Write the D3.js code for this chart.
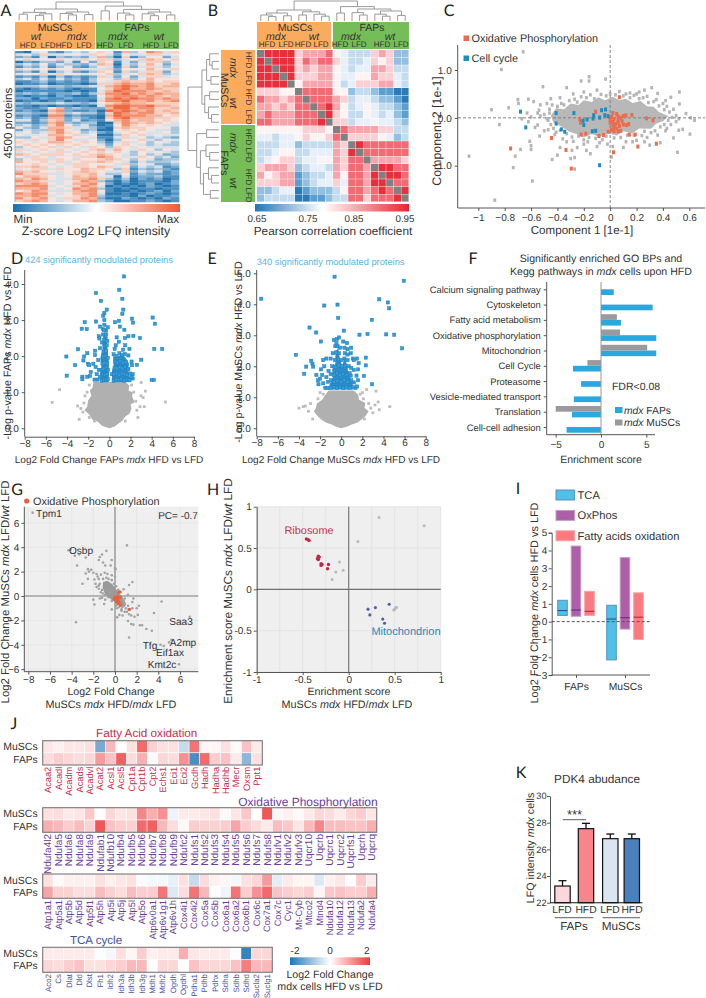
<!DOCTYPE html>
<html><head><meta charset="utf-8">
<script src="https://cdn.jsdelivr.net/npm/d3@7/dist/d3.min.js"></script>
<style>html,body{margin:0;padding:0;background:#fff}svg{display:block}text{font-family:"Liberation Sans",Arial,sans-serif;fill:#333;text-rendering:geometricPrecision}</style>
</head><body><svg id="c" width="706" height="998"></svg>
<script>
/* ---------- A ---------- */
const heatA = [
"1045213435 6517358746","4536445546 5425446645","2314032324 7306135524","5655565465 6634567656",
"0213324152 6514246635","3435243324 7604357524","1324135213 5416246435","6545655644 4625557546",
"2314034213 6516346625","4556465545 5634567634","1213031212 6425246645","3424242313 5536357555",
"1123121213 5467667566","0112011101 6678778667","3334332334 4789878677","1012121011 5689778766",
"0111110101 4798887676","2323122313 6889787877","1011021001 5788878767","2202112111 4898988787",
"0110120110 6889778678","3233343323 5678776666","1101011010 4899889776","2112572322 2799788667",
"1210782112 0989878676","3322673433 1698788667","1210881211 0798887756","2312772321 0689777665",
"4413672412 1578677565","2212783233 0068767654","3423685342 0158656544","5324776443 1067665553",
"2433785423 0056565443","4534686534 2145654453","5445775645 0036564544","3354687554 1146453432",
"5465685445 2035564354","6545776565 3146453543","5656565655 4256543433","3565646546 5365454444",
"6456565456 7475465354","4545464565 6565354543","7656665656 7654353423","5465455466 8754465342",
"3566465655 6765354233","7556564566 7654243334","5565454665 5546354223","6676545665 7645243412",
"4566465576 6536132321","7675545676 5446243412","8666445667 5335132212","5776545767 4404122311",
"7687544778 6313021201","8776445687 3102011102","6787545778 5201012012","8888454687 4010102101",
"7778545878 3101011011","5687444788 5100101202","8788545778 4001012101","7787455678 3111020112",
"8678546687 2002101021","6787545778 3200112101"];
const dendA = [1,[.62,[.44,[.34,0,1],[.36,[.28,2,3],4]],[.46,[.38,5,[.3,6,7]],[.32,8,9]]],[.78,[.52,10,11],[.6,[.4,12,[.3,13,14]],[.46,[.36,15,[.26,16,17]],[.3,18,19]]]]];
const headA = [["MuSCs",55,27,10.6,0],["wt",36,36,10.5,1],["mdx",77,36,10.5,1],["HFD",28,45,8,0],["LFD",48,45,8,0],["HFD",64,45,8,0],["LFD",84,45,8,0],
 ["FAPs",137,27,10.4,0],["mdx",118,36,10.5,1],["wt",159,36,10.5,1],["HFD",105,45,8,0],["LFD",126,45,8,0],["HFD",151,45,8,0],["LFD",171,45,8,0]];
/* ---------- B ---------- */
const heatB = [
"x9999 67778 54 333 676 22","9x999 68788 64 334 656 22","99x99 67677 54 344 776 33","999x9 66677 54 455 766 43","9999x 57777 53 466 677 43",
"66655 x8888 55 233 211 00","87767 8x888 76 344 322 10","77676 88x89 75 345 433 21","78777 888x9 65 335 434 21","88777 8889x 66 344 544 32",
"55555 56665 x8 777 766 33","44344 56556 8x 666 654 23","33344 23333 76 x98 888 88","33455 33444 76 9x8 888 88","34566 34455 76 88x 777 76",
"67776 23443 76 887 x99 88","75677 12334 75 887 9x9 98","66677 12344 64 887 99x 88","22344 01222 35 887 898 x9","23333 00112 33 886 888 9x"];
const dendB = [1,[.55,[.4,[.3,0,[.22,1,2]],[.26,3,4]],[.46,[.3,5,6],[.34,7,[.24,8,9]]]],[.72,[.4,10,11],[.6,[.42,12,[.3,13,14]],[.5,[.34,15,[.24,16,17]],[.28,18,19]]]]];
const headB = [["MuSCs",295,27,10.6,0],["mdx",276,36,10.5,1],["wt",314,36,10.5,1],["HFD",267,44,8,0],["LFD",286,44,8,0],["HFD",303,44,8,0],["LFD",321,44,8,0],
 ["FAPs",372,27,10.4,0],["mdx",351,36,10.5,1],["wt",390,36,10.5,1],["HFD",340,44,8,0],["LFD",359,44,8,0],["HFD",382,44,8,0],["LFD",401,44,8,0]];
const sideB = [["HFD",249,60,8,0],["LFD",249,78,8,0],["HFD",249,97,8,0],["LFD",249,117,8,0],["mdx",234,68,10.5,1],["wt",234,103,10.5,1],["MuSCs",225,90,10.6,0],
 ["HFD",249,137,8,0],["LFD",249,155,8,0],["HFD",249,177,8,0],["LFD",249,195,8,0],["mdx",234,143,10.5,1],["wt",234,183,10.5,1],["FAPs",225,163,10.4,0]];
const ticksB = [["0.65",257],["0.75",308],["0.85",354],["0.95",405]];
/* ---------- C ---------- */
const cTicksX = [-1,-.8,-.6,-.4,-.2,0,.2,.4,.6];
const cTicksY = [-1,0,1];
const cCore = [[-.45,.05],[-.41,.2],[-.35,.18],[-.3,.3],[-.24,.27],[-.2,.37],[-.14,.33],[-.09,.43],[-.04,.37],[.02,.44],[.07,.37],[.12,.4],[.17,.31],[.23,.35],[.28,.24],[.33,.23],[.37,.12],[.44,.04],[.4,-.07],[.35,-.12],[.31,-.23],[.22,-.22],[.17,-.32],[.1,-.28],[.05,-.37],[-.02,-.32],[-.08,-.4],[-.14,-.34],[-.2,-.41],[-.26,-.33],[-.31,-.29],[-.37,-.18],[-.43,-.1]];
const cRing = [[-.46,.18],[-.44,.27],[-.4,.24],[-.37,.3],[-.35,.27],[-.31,.36],[-.27,.39],[-.25,.33],[-.22,.44],[-.18,.42],[-.15,.48],[-.12,.4],[-.07,.49],[-.03,.46],[0,.5],[.04,.48],[.1,.46],[.15,.42],[.18,.47],[.22,.4],[.25,.42],[.29,.32],[.33,.34],[.37,.25],[.4,.3],[.41,.17],[.45,.12],[.47,.01],[.44,-.05],[.5,-.08],[.41,-.14],[.38,-.19],[.43,-.22],[.34,-.27],[.31,-.31],[.26,-.28],[.24,-.37],[.18,-.36],[.13,-.36],[.08,-.41],[.03,-.42],[-.03,-.38],[-.06,-.46],[-.11,-.43],[-.16,-.41],[-.2,-.46],[-.24,-.38],[-.29,-.4],[-.33,-.33],[-.38,-.26],[-.41,-.3],[-.45,-.14],[-.48,-.02],[-.5,.07],[-.46,.1],[-.53,.04],[-.55,.1],[-.43,-.22],[-.47,-.25]];
const cGrey = [[-.66,1.38],[-.825,1.01],[-.22,.77],[-.16,.86],[-.16,.77],[-.035,.81],[-.51,.65],[-.33,.63],[-.9,.17],[-.77,.21],[-.7,.38],[-.695,.3],[-.62,.39],[-.58,.34],[-.53,.27],[-.48,.3],[-.84,-.14],[-1.07,-.8],[-.875,-1.72],[-.59,-1.32],[-.735,-1.04],[-.72,-.8],[-.68,-.66],[-.61,-.49],[-.6,-.58],[-.6,-.66],[-.535,-.38],[-.44,-.87],[-.4,-.78],[-.38,-.62],[-.3,-.85],[-.27,-.83],[-.27,-1.07],[-.15,-.75],[.01,-.82],[.02,-.6],[.51,-.72],[.48,-.42],[.605,-.34],[.55,-.24],[.52,-.26],[.64,-.05],[.575,.09],[.61,0],[.525,.29],[.525,.54],[.46,.43],[.43,.24],[.36,.51],[.315,.63],[.26,.58],[.22,.54],[.12,.5],[.15,.52],[.07,.55],[.3,-.57],[.26,-.5],[.17,-.5],[.1,-.62],[-.02,-.55],[-.1,-.6],[-.2,-.55],[-.25,-.62],[-.33,-.5],[-.42,-.35],[-.5,-.27],[-.55,-.15],[-.62,-.08],[-.67,-.02],[-.57,-.2],[-.45,.4],[-.38,.42],[-.28,.5],[-.2,.54],[-.1,.58],[.2,.5],[.28,.45],[.35,.38],[.42,.36],[.48,.18],[.5,.05],[.52,-.02],[.46,-.14],[.42,-.27],[.36,-.36],[.28,-.41],[.2,-.47],[.38,-.52],[.12,-.5],[-.08,-.52],[-.17,-.5],[-.28,-.49],[-.36,-.44],[-.29,-.68],[-.18,-.68],[-.63,.1],[-.6,.02],[-.54,.16],[-.47,-.05]];
const cOrange = [[.07,.43],[-.11,.13],[-.23,-.03],[-.225,-.1],[-.185,-.33],[-.22,-.35],[-.085,-.38],[-.05,-.36],[-.445,-.42],[-.335,-.67],[-.755,-.64],[-.295,-1.06],[.025,-.72],[.21,-.6],[.35,-.54],[.275,-.01],[.325,-.05],[.165,.06],[.14,-.13],[.125,-.15],[.145,-.35],[.19,-.35],[-.015,-.29],[.02,.1],[.05,.08],[.01,.02],[.03,-.02],[.06,.03],[.08,0],[.1,.04],[.12,.05],[0,-.1],[.02,-.08],[.04,-.13],[.06,-.1],[.07,-.17],[.03,-.2],[.05,-.23],[.01,-.25],[.03,-.28],[.06,-.28],[.09,-.07],[.1,-.14],[.02,-.16],[0,-.03],[.06,-.05],[.08,-.27]];
const cBlue = [[-.68,.13],[-.64,-.2],[-.41,.1],[-.41,-.12],[-.275,.1],[-.37,-.24],[-.345,-.29],[-.205,-.06],[-.2,-.15],[-.175,-.035],[-.125,.055],[-.13,-.015],[-.11,-.27],[-.135,-.28],[-.065,.16],[-.035,.175],[-.04,.055],[-.08,.005],[-.015,.035],[-.08,-.99]];
/* ---------- D ---------- */
const volTicksX = [-8,-6,-4,-2,0,2,4,6,8];
const dGreyArea = [[0,0],[.5,.05],[.9,.14],[1.2,.2],[1.5,.33],[1.9,.4],[2.1,.55],[2,.66],[2.4,.72],[2.15,.88],[2.2,1],[1.8,1.05],[1.9,1.18],[1.55,1.28],[-1.5,1.28],[-1.6,1.12],[-1.85,1.05],[-1.7,.9],[-2,.78],[-2.1,.6],[-2.35,.5],[-1.9,.38],[-1.6,.24],[-1.1,.18],[-.7,.07]];
const dGrey = [[-5.4,.72],[-4.7,1.07],[-2.85,.25],[-3,.62],[-2.7,.55],[-2.5,.45],[5.3,.73],[3,1.27],[3.4,1.03],[3.3,.6],[3.2,.85],[3,.9],[2.9,.6],[2.7,.3],[2.6,.5],[2.5,.75],[2.3,1],[2.1,1.2],[-2.3,.9],[-2.1,1],[-1.9,1.2],[-2.4,.7],[-1.9,.3],[-1.4,.2],[1.5,.2]];
const dBlueLobes = [[[-.8,1.28],[-.9,1.5],[-.75,1.7],[-.85,1.95],[-.65,2.2],[-.65,2.4],[-.25,2.45],[-.15,2.1],[-.05,1.85],[-.05,1.28]],[[.25,1.28],[.25,1.6],[.4,1.75],[.35,2],[.8,1.98],[1.2,2.06],[1.55,1.95],[1.85,1.8],[1.8,1.5],[2.05,1.35],[2,1.28]]];
const dBlue = [[1.39,4.21],[-1.26,3.75],[.94,3.84],[-.79,3.53],[1.23,3.59],[1.32,3.29],[-.25,3.29],[-.47,3.2],[1.23,3.17],[-.57,3.12],[4.09,3.07],[2.14,3.04],[-1.26,2.96],[-2.33,2.94],[-.47,3],[.54,2.94],[.91,2.98],[2.24,2.93],[4.31,2.9],[-.88,2.82],[-.47,2.87],[1,2.82],[-2.61,2.76],[-2.14,2.75],[-.31,2.71],[1.42,2.73],[2.27,2.56],[2.9,2.5],[-1,2.55],[-.94,2.49],[1.48,2.5],[1.8,2.55],[.69,2.52],[-2.96,2.19],[-4.06,1.99],[-3.24,1.75],[-4.03,1.46],[-2.55,1.43],[-2.55,1.36],[-2.08,1.43],[-1.83,1.45],[-2.08,2.08],[-2.39,1.99],[-2.45,1.88],[-2.02,1.79],[-1.9,1.75],[-1.51,1.79],[-1.76,1.56],[-1.35,2.15],[-1.35,2.03],[-.88,2.22],[-1.04,1.89],[4.25,2.2],[5,2.2],[3.02,1.9],[2.6,1.76],[4,1.34],[4.22,1.34],[-1.3,1.7],[-1.2,1.5],[-1.1,1.35],[-1,1.62],[-.9,1.42],[-1.4,1.35],[-.7,2.38],[-.62,2.75],[-.35,2.48],[-.5,2.45],[.6,2.3],[.9,2.4],[1.5,2.3],[1.9,2.2],[1.3,2.18],[.5,2.2],[2.2,1.5],[2.2,1.38],[2.15,1.75],[2.1,1.85],[.25,1.5],
 [-.7,1.32],[-.5,1.35],[-.3,1.33],[-.15,1.36],[-.6,1.5],[-.4,1.48],[-.2,1.5],[-.75,1.62],[-.55,1.65],[-.3,1.68],[-.12,1.62],[-.65,1.8],[-.45,1.82],[-.22,1.8],[-.6,1.98],[-.35,2],[-.15,1.95],[-.55,2.12],[-.3,2.15],[-.45,2.28],[-.25,2.3],[-.4,2.55],[-.2,2.42],[-.6,2.6],[-.3,2.6],[-.5,2.72],[-.15,2.8],
 [.4,1.32],[.65,1.35],[.9,1.33],[1.15,1.36],[1.4,1.32],[1.65,1.35],[1.9,1.33],[2.1,1.42],[.45,1.5],[.7,1.52],[.95,1.48],[1.2,1.52],[1.45,1.5],[1.7,1.48],[1.95,1.52],[.5,1.68],[.75,1.66],[1,1.7],[1.25,1.66],[1.5,1.7],[1.8,1.64],[.55,1.85],[.8,1.82],[1.05,1.86],[1.3,1.82],[1.55,1.84],[.4,2.05],[.7,2],[.95,2.08],[1.2,2.03],[1.45,2.06],[1.8,2.02]];
/* ---------- E ---------- */
const eYTicks = [0,1,2,3,4,5];
const eGreyArea = [[0,0],[.6,.06],[1,.12],[1.5,.18],[2,.3],[2.3,.4],[2.6,.55],[2.2,.66],[2.3,.82],[1.7,.92],[1.6,1.08],[1.2,1.22],[-1.2,1.22],[-1.5,1.08],[-1.8,.92],[-2.3,.8],[-2.4,.65],[-2.6,.55],[-2.2,.38],[-1.9,.28],[-1.4,.18],[-.9,.12],[-.5,.05]];
const eGrey = [[-4,.65],[-3.6,.7],[-3.1,.55],[-2.7,.3],[-3.4,.72],[-2.9,.8],[-2.2,.95],[-2,1.15],[-1.7,1.1],[3.2,.75],[3.6,.6],[4.6,.7],[3.5,.85],[3.3,1.2],[2.4,1.25],[2,1.15],[3,.5],[2.6,.8],[2.8,.65],[2.1,.95],[1.8,1.1],[2.2,.3]];
const eBlueArea = [[-1.25,1.25],[-1.05,1.45],[-.8,1.6],[-.85,1.9],[-.55,2.1],[-.55,2.45],[-.3,2.6],[-.15,2.3],[.1,2],[.3,2.3],[.55,2.05],[.7,1.75],[1.05,1.5],[1.15,1.25]];
const eBlue = [[-.63,4.89],[5.93,4.76],[-7.57,4.18],[3.6,4.16],[4.42,4.06],[4.54,3.87],[-.35,3.99],[-1.6,3.96],[-.28,3.56],[2.9,3.5],[-3,3.25],[-2.37,3.09],[.25,3.15],[1.73,3.02],[2.49,3.04],[4.26,3.03],[5.02,3.02],[-1.92,2.8],[5.77,2.58],[-4.29,2.37],[2.33,2.28],[2.33,2.03],[-2.84,2.18],[-2.72,2.08],[-3.31,1.99],[-2.65,1.99],[-3.5,1.76],[2.15,1.69],[2.93,1.42],[-.7,2.85],[-.4,2.88],[-.2,2.93],[-.55,2.65],[.2,2.8],[.6,2.55],[.95,2.6],[.55,2.75],[.9,2.42],[1.1,2.25],[1.5,2.25],[1.65,2.1],[1.2,2.2],[-1.4,2.25],[-1,2.25],[-.8,2.42],[-1.7,2.2],[-1.6,2],[-1.9,1.9],[-1.8,1.72],[-2,1.6],[-2.35,1.72],[-2.2,1.55],[-2.15,1.42],[-1.7,1.45],[-1.4,1.65],[-1.2,1.85],[1.2,1.88],[1.6,1.9],[1.45,1.7],[1.6,1.55],[1.35,1.3],[1.5,1.35],[-1.5,1.3],[.9,1.7],
 [-1.3,1.3],[-1,1.3],[-.7,1.32],[-.4,1.3],[-.1,1.33],[.2,1.3],[.5,1.32],[.8,1.3],[1.1,1.33],[-1.25,1.5],[-.95,1.55],[-.65,1.5],[-.35,1.52],[0,1.5],[.3,1.55],[.6,1.5],[.95,1.55],[1.2,1.48],[-1,1.75],[-.7,1.72],[-.4,1.78],[-.1,1.72],[.2,1.75],[.5,1.72],[.8,1.78],[-.85,2],[-.55,1.98],[-.25,2.02],[.1,2],[.4,2.02],[.7,2],[.95,1.95],[-.6,2.2],[-.3,2.22],[0,2.2],[.3,2.25],[.6,2.2],[-.5,2.45],[-.2,2.42],[.35,2.42],[.6,2.38],[-.35,2.65],[-.1,2.6],[.3,2.6],[-.45,2.75]];
/* ---------- F ---------- */
const fCats = ["Calcium signaling pathway","Cytoskeleton","Fatty acid metabolism","Oxidative phosphorylation","Mitochondrion ","Cell Cycle","Proteasome","Vesicle-mediated transport","Translation","Cell-cell adhesion"];
const fFaps = [1.4,5.7,2.2,6.1,6.1,-3.1,-2.2,-3,-3.2,-3.8];
const fMuscs = [null,null,1.75,2.1,5.1,-1.5,null,null,-5,null];
/* ---------- G ---------- */
const gTicksX = [-8,-6,-4,-2,0,2,4,6], gTicksY = [-6,-4,-2,0,2,4,6];
const gCore = [[-1.1,1.15],[-.7,1.25],[-.3,1],[0,.7],[.3,.3],[.7,-.1],[1,-.6],[.9,-.9],[.5,-.85],[.1,-.6],[-.3,-.3],[-.7,-.05],[-1,.3],[-1.15,.7]];
const gGrey = [[-7.6,6.83],[-4.1,3.8],[-4.3,3.75],[6.9,-1.7],[5,-3.8],[5.2,-3.6],[4.2,-4],[4.5,-4.1],[5.9,-5.6],[1.1,4.15],[-.8,3.7],[-1.2,3.4],[-1.4,3.2],[-2.7,3.15],[-3.3,3.4],[-3.7,3.3],[-1.5,2.95],[-1.1,2.75],[-.9,2.5],[-.4,2.5],[-.3,2.95],[.05,2.2],[0,2.3],[-3.5,2.5],[-2.5,2.2],[-2.4,2],[-2.2,2.15],[-2,1.9],[-2.7,1.85],[-2.5,1.4],[-3,1],[-1.9,1.35],[-1.7,1.8],[-1.5,1.4],[-1.3,1.75],[-1.6,1.6],[-1.8,1],[-1.7,.75],[-1.5,.85],[-.95,1.9],[-.7,1.8],[-.3,1.7],[0,1.6],[1.6,1.15],[1.3,.9],[.8,.55],[1.2,.1],[1.7,-.2],[-2,-.3],[-1.4,-.2],[-1.9,-.7],[-1,-.65],[-1.2,-.15],[-.9,-.3],[-3.6,-2.15],[-.3,-1.1],[.2,-1],[.4,-1.55],[.7,-1.6],[.2,-1.75],[1.1,-1.3],[1.5,-1.6],[1.2,-2.05],[1.5,-2.3],[1.7,-2.35],[1.3,-3.4],[2,-1],[1.8,-1.7],[2.1,-1.55],[2.3,-2.4],[2.5,-2.4],[2.9,-2.7],[3.4,-2.85],[3.6,-1.4],[4.3,-.45],[2.2,-.8],[1.6,-.5],[1.3,-1.5],[-.5,.3],[-.2,-.2],[.2,-.7],[.6,-1.2],
 [-1.1,1.4],[-.8,1.5],[-.6,1.4],[-.3,1.3],[-1.4,1],[-1.2,.5],[-1.3,.3],[-.9,.1],[-.6,-.1],[-.3,-.4],[.1,-.8],[.4,-.9],[.7,-.9],[.9,-.7],[1,-1],[.8,-.4],[.9,-.2],[.5,.3],[.3,.5],[.1,.8],[-.1,1],[.6,-1.1],[1.2,-.8],[1.4,-1.1],[1.6,-1],[.9,-1.3],[-1.5,.6],[-1.1,.2]];
const gRed = [[0,-.1],[.1,-.3],[.2,-.05],[-.1,-.25],[.3,-.4],[.15,-.5],[.4,-.55],[.5,-.75],[.35,.3],[.45,.35],[.5,-.1],[.25,-.2],[1.3,-1.1],[.05,-.15],[.3,-.6]];
const gLabels = [["Tpm1",49,513.3],["Osbp",81,550],["Saa3",181,621],["A2mp",183,642.7],["Tfg",150,645],["Eif1ax",170,652],["Kmt2c",162,664]];
/* ---------- H ---------- */
const hTicks = [-1,-.5,0,.5,1];
const hGrey = [[.33,.87],[.82,.77],[.1,.58],[-.1,.33],[-.06,.23],[-.14,.21],[-.18,.12],[.49,-.25],[.51,-.22],[.5,-.24],[.52,-.22]];
const hRed = [[-.46,.61],[-.44,.6],[-.43,.59],[-.33,.4],[-.32,.39],[-.34,.37],[-.33,.36],[-.3,.31],[-.3,.29],[-.29,.3],[-.22,.3],[-.23,.25]];
const hBlue = [[.21,-.24],[.23,-.31],[.29,-.22],[.37,-.36],[.39,-.41],[.44,-.18]];
/* ---------- I ---------- */
const iGroups = ["FAPs","MuSCs"], iSeries = ["TCA","OxPhos","Fatty acids oxidation"];
const iFill = ["#4fc1e8","#ad5fa8","#fa7a80"], iStroke = ["#5b8fc0","#c79ccb","#f6a3a6"], iMed = ["#234a8a","#5c2a80","#c21a2e"];
const iLow = [[.35,.3,.35],[-2.15,-.42,-1]], iHigh = [[1.2,4.25,1.7],[.92,3.6,1.62]], iMedian = [[.62,.65,.58],[.15,.22,.25]];
const iTicks = [-3,-2,-1,0,1,2,3,4,5];
/* ---------- J ---------- */
const jFaGenes = ["Acaa2","Acadl","Acadm","Acads","Acadvl","Acat2","Acsl1","Acsl5","Cpt1a","Cpt1b","Cpt2","Echs1","Eci1","Eci2","Gcdh","Hadh","Hadha","Hadhb","Mecr","Oxsm","Ppt1"];
const jFaM = [.25,.15,.25,.25,.3,-1.2,.7,.02,.3,1.5,.45,.3,.3,-.5,1.4,.1,.1,.3,.05,.6,.2];
const jFaF = [.35,.5,.4,.35,.4,1,.6,1.6,.35,.8,-.05,.4,.35,1.1,-1.7,1.5,.5,.6,.2,-1,.3];
const jOx1Genes = ["Ndufa4l2","Ndufa5","Ndufa6","Ndufa8","Ndufa9","Ndufab1","Ndufb10","Ndufb4","Ndufb5","Ndufb6","Ndufb7","Ndufb8","Ndufb9","Ndufc2","Ndufs1","Ndufs2","Ndufs3","Ndufs4","Ndufs5","Ndufs6","Ndufs7","Ndufs8","Ndufv1","Ndufv2","Ndufv3","Uqcr10","Uqcrb","Uqcrc1","Uqcrc2","Uqcrfs1","Uqcrh","Uqcrq"];
const jOx1M = [.3,.35,.2,.25,.55,.02,.4,.25,.3,1.2,.8,1.1,-.15,.2,.2,.25,.3,.05,.25,.55,0,1.7,.1,.15,.05,.2,.4,.35,.2,.4,.5,.25];
const jOx1F = [.8,.7,.5,.65,.45,1.7,.6,.5,.45,1.5,1.6,.7,.35,.08,.5,.45,.45,.5,.9,.5,.35,.2,.65,.55,.25,.7,1.2,.65,.65,.6,.6,.8];
const jOx2Genes = ["Atp1a1","Atp5a1","Atp5b","Atp5d","Atp5f1","Atp5h","Atp5i","Atp5j","Atp5l","Atp5o","Atp6v0a1","Atp6v1g1","Atp6v1h","Cox4i1","Cox4i2","Cox5a","Cox5b","Cox6a1","Cox6a2","Cox6b1","Cox6c","Cox7a1","Cox7c","Cyc1","Mt-Cyb","Mtco2","Mtnd4","Ndufa10","Ndufa12","Ndufa13","Ndufa2","Ndufa4"];
const jOx2M = [.3,.05,.15,.15,.15,.3,.15,.25,.3,-.05,-.1,-.1,-.2,.3,-.5,.35,.15,.1,-.1,.3,.4,1,-.25,.2,.1,.1,-.3,.15,.25,.02,.5,.2];
const jOx2F = [.9,.45,.45,.35,.35,.65,.45,.35,.65,.5,.5,1.4,-.3,.35,1.4,.7,-.03,-.15,1.4,.5,1.1,1.5,.6,.5,.4,.5,.1,.55,.6,.5,.5,.8];
const jTcaGenes = ["Aco2","Cs","Dlat","Dld","Dlst","Fh1","Idh2","Idh3a","Idh3b","Idh3g","Mdh1","Mdh2","Ogdh","Ogdhl","Pdha1","Pdhb","Pdhx","Sdha","Sdhb","Sdhd","Sucla2","Suclg1"];
const jTcaM = [.2,.2,.2,.2,.2,-.03,-.1,.3,.1,.5,.15,.2,.2,.8,.25,.2,.2,.2,-.03,-1.9,.4,.4];
const jTcaF = [.4,.35,.5,.6,.3,.3,.4,.5,.7,.7,-.03,.4,.4,0,.6,.4,.4,.4,.6,1.3,.7,.7];
/* ---------- K ---------- */
const kCats = ["LFD","HFD","LFD ","HFD "], kVals = [23.25,27.55,26.8,26.8], kErr = [23.65,27.95,27.15,27.15];
const kColors = ["#fbd6db","#f8848c","#dbe5f1","#4a80bc"], kTicks = [22,24,26,28,30];

/* ---------- helpers ---------- */
const svg = d3.select("#c");
function txt(s,x,y,size,opt={}){
  const t = svg.append("text").attr("x",x).attr("y",y).attr("font-size",size).attr("dy",".35em")
    .attr("text-anchor",opt.anchor||"middle");
  if(opt.color) t.style("fill",opt.color);
  if(opt.rot!=null) t.attr("transform",`rotate(${opt.rot} ${x} ${y})`);
  s.split("*").forEach((p,i)=>{ if(p) t.append("tspan").attr("font-style",i%2?"italic":"normal").text(p); });
  return t;
}
function letter(s,x,y){ svg.append("text").attr("x",x).attr("y",y).attr("dy",".35em").attr("text-anchor","middle").attr("font-size",16).style("font-family","Lato").style("fill","#222").text(s); }
function styleAxis(g,fs){ g.selectAll("text").attr("font-size",fs).style("fill","#333"); g.selectAll("path,line").attr("stroke","#444").attr("stroke-width",.9); }
function axis(gen,x,y,fs){ const g=svg.append("g").attr("transform",`translate(${x},${y})`).call(gen); styleAxis(g,fs); return g; }
function squares(data,sx,sy,w,h,fill,stroke){ svg.append("g").selectAll("rect").data(data).join("rect").attr("x",d=>sx(d[0])-w/2).attr("y",d=>sy(d[1])-h/2).attr("width",w).attr("height",h).attr("fill",fill).attr("stroke",stroke||"none").attr("stroke-width",stroke?.5:0); }
function dots(data,sx,sy,r,fill){ svg.append("g").selectAll("circle").data(data).join("circle").attr("cx",d=>sx(d[0])).attr("cy",d=>sy(d[1])).attr("r",r).attr("fill",fill); }
function area(pts,sx,sy,fill){ svg.append("path").attr("d",d3.line().x(d=>sx(d[0])).y(d=>sy(d[1])).curve(d3.curveLinearClosed)(pts)).attr("fill",fill); }
function dendro(tree,pos,hscale,horizontal){
  const segs=[];
  (function walk(n){
    if(typeof n==="number") return {c:pos(n),h:hscale(0)};
    const a=walk(n[1]),b=walk(n[2]),h=hscale(n[0]);
    segs.push([[a.c,a.h],[a.c,h],[b.c,h],[b.c,b.h]]);
    return {c:(a.c+b.c)/2,h};
  })(tree);
  const l=d3.line().x(d=>horizontal?d[1]:d[0]).y(d=>horizontal?d[0]:d[1]);
  svg.append("g").selectAll("path").data(segs).join("path").attr("d",l).attr("fill","none").attr("stroke","#8f8f8f").attr("stroke-width",.9);
}
function gradient(id,stops){
  const g=svg.append("defs").append("linearGradient").attr("id",id);
  stops.forEach(s=>g.append("stop").attr("offset",s[0]).attr("stop-color",s[1]));
}
/* ---------- draw A ---------- */
letter("A",6,10);
const ax=d3.scaleBand().domain(d3.range(20)).range([15,179]);
dendro(dendA,i=>ax(i)+ax.bandwidth()/2,d3.scaleLinear([0,1],[20.5,2]),false);
svg.append("rect").attr("x",15).attr("y",22).attr("width",80).attr("height",27).attr("fill","#fbab5e");
svg.append("rect").attr("x",96).attr("y",22).attr("width",83).attr("height",27).attr("fill","#74bd58");
headA.forEach(h=>txt(h[4]?`*${h[0]}*`:h[0],h[1],h[2],h[3]));
const aRows=heatA.map(s=>s.replace(/ /g,""));
const ay=d3.scaleBand().domain(d3.range(aRows.length)).range([51,202]);
const aCol=d3.scaleLinear().domain([0,2.2,4.5,6.5,9]).range(["#2474ae","#7fb0d4","#f1eeee","#f9c4b0","#ee6a40"]);
aRows.forEach((r,i)=>svg.append("g").selectAll("rect").data(r.split("")).join("rect")
  .attr("x",(d,j)=>ax(j)).attr("y",ay(i)).attr("width",ax.bandwidth()+.3).attr("height",ay.bandwidth()+.3).attr("fill",d=>aCol(+d)));
svg.append("line").attr("x1",15).attr("x2",15).attr("y1",51).attr("y2",202).attr("stroke","#aaa");
gradient("ga",[[0,"#1a6fad"],[.5,"#ffffff"],[1,"#ee5a36"]]);
svg.append("rect").attr("x",13).attr("y",204).attr("width",167).attr("height",8).attr("fill","url(#ga)");
txt("Min",23,219,11.7); txt("Max",168,219,11.7); txt("Z-score Log2 LFQ intensity",96,231,12.3);
txt("4500 proteins",8,123,11.7,{rot:-90});
/* ---------- draw B ---------- */
letter("B",213,10);
const bx=d3.scaleBand().domain(d3.range(20)).range([257,409]);
const by=d3.scaleBand().domain(d3.range(20)).range([50,202]);
dendro(dendB,i=>bx(i)+bx.bandwidth()/2,d3.scaleLinear([0,1],[21,1]),false);
dendro(dendB,i=>by(i)+by.bandwidth()/2,d3.scaleLinear([0,1],[219,188]),true);
svg.append("rect").attr("x",257).attr("y",22).attr("width",74).attr("height",27).attr("fill","#fbab5e");
svg.append("rect").attr("x",333).attr("y",22).attr("width",76).attr("height",27).attr("fill","#74bd58");
svg.append("rect").attr("x",221).attr("y",50).attr("width",34).attr("height",74).attr("fill","#fbab5e");
svg.append("rect").attr("x",221).attr("y",125).attr("width",34).attr("height",77).attr("fill","#74bd58");
headB.forEach(h=>txt(h[4]?`*${h[0]}*`:h[0],h[1],h[2],h[3]));
sideB.forEach(h=>txt(h[4]?`*${h[0]}*`:h[0],h[1],h[2],h[3],{rot:90}));
const bCol=d3.scaleLinear().domain([0,1,2,3,4,5,6,7,8,9]).range(["#2b7ab8","#5a9fd0","#93c0e0","#c5dcee","#e7f0f8","#fdf3f3","#fbd0d4","#f7a5ac","#f26a74","#ea2f3c"]);
heatB.map(s=>s.replace(/ /g,"")).forEach((r,i)=>svg.append("g").selectAll("rect").data(r.split("")).join("rect")
  .attr("x",(d,j)=>bx(j)).attr("y",by(i)).attr("width",bx.bandwidth()-.4).attr("height",by.bandwidth()-.4).attr("fill",d=>d==="x"?"#808080":bCol(+d)));
gradient("gb",[[0,"#2276b5"],[.44,"#ffffff"],[1,"#ea2233"]]);
svg.append("rect").attr("x",255).attr("y",204).attr("width",154).attr("height",7.5).attr("fill","url(#gb)");
ticksB.forEach(t=>txt(t[0],t[1],219,9.8));
txt("Pearson correlation coefficient",333,231,11.8);
/* ---------- draw C ---------- */
letter("C",449,10);
const cx=d3.scaleLinear().domain([-1,.6]).range([478.3,689.3]);
const cy=d3.scaleLinear().domain([-1,1]).range([165.7,70]);
area(cCore,cx,cy,"#b8b8b8");
squares(cRing,cx,cy,2.8,3.4,"#b5b5b5");
squares(cGrey,cx,cy,2.8,3.4,"#b5b5b5");
svg.append("line").attr("x1",cx(0)).attr("x2",cx(0)).attr("y1",45).attr("y2",208).attr("stroke","#777").attr("stroke-dasharray","3,2").attr("stroke-width",.9);
svg.append("line").attr("x1",458).attr("x2",705).attr("y1",cy(0)).attr("y2",cy(0)).attr("stroke","#777").attr("stroke-dasharray","3,2").attr("stroke-width",.9);
squares(cOrange,cx,cy,3,4,"#ee6a4a");
squares(cBlue,cx,cy,3,4,"#1d8dbf");
axis(d3.axisBottom(cx).tickValues(cTicksX).tickFormat(d3.format("")).tickSize(3).tickSizeOuter(0),0,208,10).call(g=>g.select(".domain").attr("d","M458,0H705"));
axis(d3.axisLeft(cy).tickValues(cTicksY).tickSize(3),457.7,0,10).call(g=>g.select(".domain").attr("d","M0,45V208"));
svg.append("rect").attr("x",463.5).attr("y",35.5).attr("width",5.5).attr("height",5.5).attr("fill","#ee6a4a");
svg.append("rect").attr("x",463.5).attr("y",55.5).attr("width",5.5).attr("height",5.5).attr("fill","#1d8dbf");
txt("Oxidative Phosphorylation",471.5,38,10.9,{anchor:"start"});
txt("Cell cycle",471.5,58,10.9,{anchor:"start"});
txt("Component 1 [1e-1]",582,230,11.6);
txt("Component 2  [1e-1]",437,131,12.4,{rot:-90});
/* ---------- draw D ---------- */
letter("D",17,258); letter("E",212,258);
const dx=d3.scaleLinear().domain([-8,8]).range([24.7,194]);
const dy=d3.scaleLinear().domain([0,4]).range([428.3,284]);
area(dGreyArea,dx,dy,"#b0b0b0"); squares(dGrey,dx,dy,2.8,2.8,"#bdbdbd");
dBlueLobes.forEach(l=>area(l,dx,dy,"#2a8cc9"));
squares(dBlue,dx,dy,3.2,3.2,"#349cd6","#1f7fbd");
axis(d3.axisBottom(dx).tickValues(volTicksX).tickSize(3).tickPadding(0).tickSizeOuter(0),0,436.7,10);
axis(d3.axisLeft(dy).tickValues([0,1,2,3,4]).tickSize(3),24.7,0,10).call(g=>g.select(".domain").attr("d","M0,270V436.7"));
txt("424 significantly modulated proteins",25,260,9.3,{anchor:"start",color:"#5ab6e0"});
txt("-Log p-value FAPs *mdx* HFD vs LFD",7,353,10.7,{rot:-90});
txt("Log2 Fold Change FAPs *mdx* HFD vs LFD",109,459.5,10);
/* ---------- draw E ---------- */
const ex=d3.scaleLinear().domain([-8,8]).range([256.7,425.7]);
const ey=d3.scaleLinear().domain([0,5]).range([428.3,273.3]);
area(eGreyArea,ex,ey,"#b0b0b0"); squares(eGrey,ex,ey,2.8,2.8,"#bdbdbd");
area(eBlueArea,ex,ey,"#2a8cc9");
squares(eBlue,ex,ey,3.2,3.2,"#349cd6","#1f7fbd");
axis(d3.axisBottom(ex).tickValues(volTicksX).tickSize(3).tickPadding(0).tickSizeOuter(0),0,436.3,10);
axis(d3.axisLeft(ey).tickValues(eYTicks).tickSize(3),256.7,0,10).call(g=>g.select(".domain").attr("d","M0,270V436.3"));
txt("340 significantly modulated proteins",256.7,262,9.3,{anchor:"start",color:"#5ab6e0"});
txt("-Log p-value MuSCs *mdx* HFD vs LFD",238,352,10.65,{rot:-90});
txt("Log2 Fold Change MuSCs *mdx* HFD vs LFD",341,459.5,10.05);
/* ---------- draw F ---------- */
letter("F",473,258);
const fx=d3.scaleLinear().domain([-5,5]).range([555.7,646.3]);
const fy=d3.scalePoint().domain(fCats).range([289.3,427]);
const bh=5.7;
svg.append("g").selectAll("rect").data(fFaps).join("rect").attr("x",d=>fx(Math.min(0,d))).attr("y",(d,i)=>fy(fCats[i])).attr("width",d=>Math.abs(fx(d)-fx(0))).attr("height",bh).attr("fill","#29a7df");
svg.append("g").selectAll("rect").data(fMuscs).join("rect").filter(d=>d!=null).attr("x",d=>fx(Math.min(0,d))).attr("y",d=>fy(fCats[fMuscs.indexOf(d)])-bh).attr("width",d=>Math.abs(fx(d)-fx(0))).attr("height",bh).attr("fill","#9a9a9e");
svg.append("line").attr("x1",fx(0)).attr("x2",fx(0)).attr("y1",282).attr("y2",434.7).attr("stroke","#999").attr("stroke-width",1);
axis(d3.axisBottom(fx).tickValues([-5,0,5]).tickSize(3).tickSizeOuter(0),0,434.7,10).call(g=>g.select(".domain").attr("d","M546.7,0H655"));
axis(d3.axisLeft(fy).tickSize(3).tickFormat(d=>d),546.7,0,9.4).call(g=>g.select(".domain").attr("d","M0,282V434.7"));
txt("Significantly enriched GO BPs and",601,258.3,10.6);
txt("Kegg pathways in *mdx* cells upon HFD",601,271.7,10.6);
txt("FDR<0.08",636,386.7,10.5);
svg.append("rect").attr("x",615).attr("y",407).attr("width",7.5).attr("height",6).attr("fill","#29a7df");
svg.append("rect").attr("x",615).attr("y",419.5).attr("width",7.5).attr("height",6).attr("fill","#9a9a9e");
txt("*mdx* FAPs",624,410,10.3,{anchor:"start"});
txt("*mdx* MuSCs",624,422.5,10.3,{anchor:"start"});
txt("Enrichment score",601,459.7,10.5);
/* ---------- draw G ---------- */
letter("G",17,489); letter("H",213,489);
const gx=d3.scaleLinear().domain([-8,8]).range([28.3,201.7]);
const gy=d3.scaleLinear().domain([-6,6]).range([669.2,522.8]);
svg.append("rect").attr("x",24.3).attr("y",506.7).attr("width",174).attr("height",165).attr("fill","#efefef");
gTicksX.forEach(t=>svg.append("line").attr("x1",gx(t)).attr("x2",gx(t)).attr("y1",506.7).attr("y2",671.7).attr("stroke","#e2e2e2").attr("stroke-width",.7));
gTicksY.forEach(t=>svg.append("line").attr("x1",24.3).attr("x2",198.3).attr("y1",gy(t)).attr("y2",gy(t)).attr("stroke","#e2e2e2").attr("stroke-width",.7));
svg.append("line").attr("x1",gx(0)).attr("x2",gx(0)).attr("y1",506.7).attr("y2",671.7).attr("stroke","#808080").attr("stroke-width",1.1);
svg.append("line").attr("x1",24.3).attr("x2",198.3).attr("y1",gy(0)).attr("y2",gy(0)).attr("stroke","#808080").attr("stroke-width",1.1);
area(gCore,gx,gy,"#9a9a9a");
dots(gGrey,gx,gy,1.3,"#a3a3a3");
dots(gRed,gx,gy,1.6,"#ea5f3c");
axis(d3.axisBottom(gx).tickValues(gTicksX).tickSize(3).tickPadding(1).tickSizeOuter(0),0,671.7,10).call(g=>g.select(".domain").attr("d","M24.3,0H198.3"));
axis(d3.axisLeft(gy).tickValues(gTicksY).tickSize(3).tickPadding(2),24.3,0,10).call(g=>g.select(".domain").attr("d","M0,506.7V671.7"));
gLabels.forEach(l=>txt(l[0],l[1],l[2],10.1));
svg.append("circle").attr("cx",26.7).attr("cy",501).attr("r",2.6).attr("fill","#ea5f3c");
txt("Oxidative Phosphorylation",33,501,10.9,{anchor:"start"});
txt("PC= -0.7",178,515,10);
txt("Log2 Fold Change MuSCs *mdx* LFD/*wt* LFD",5,592,11.4,{rot:-90});
txt("Log2 Fold Change",111,691,10.6);
txt("MuSCs *mdx* HFD/*mdx* LFD",111,704,10.8);
/* ---------- draw H ---------- */
const hx=d3.scaleLinear().domain([-1,1]).range([256.7,440.7]);
const hy=d3.scaleLinear().domain([-1,1]).range([672,506.7]);
svg.append("rect").attr("x",256.7).attr("y",506.7).attr("width",184).attr("height",165.3).attr("fill","#efefef");
hTicks.concat([-.75,-.25,.25,.75]).forEach(t=>svg.append("line").attr("x1",hx(t)).attr("x2",hx(t)).attr("y1",506.7).attr("y2",672).attr("stroke","#e0e0e0").attr("stroke-width",.7));
hTicks.forEach(t=>svg.append("line").attr("x1",256.7).attr("x2",440.7).attr("y1",hy(t)).attr("y2",hy(t)).attr("stroke","#e0e0e0").attr("stroke-width",.7));
svg.append("line").attr("x1",hx(0)).attr("x2",hx(0)).attr("y1",506.7).attr("y2",672).attr("stroke","#707070").attr("stroke-width",1.1);
svg.append("line").attr("x1",256.7).attr("x2",440.7).attr("y1",hy(0)).attr("y2",hy(0)).attr("stroke","#707070").attr("stroke-width",1.1);
dots(hGrey,hx,hy,1.5,"#b9b9b9");
dots(hRed,hx,hy,1.7,"#c4264a");
dots(hBlue,hx,hy,1.6,"#5560a8");
const f2=d=>d===0?"0":String(d);
axis(d3.axisBottom(hx).tickValues(hTicks).tickFormat(f2).tickSize(3).tickPadding(.5).tickSizeOuter(0),0,672,10);
axis(d3.axisLeft(hy).tickValues(hTicks).tickFormat(f2).tickSize(3).tickPadding(2).tickSizeOuter(0),256.7,0,10);
txt("Ribosome",309,530,10.9,{color:"#c2334f"});
txt("Mitochondrion",406,631,11,{color:"#2d87b8"});
txt("Enrichment score MuSCs *mdx* LFD/*wt* LFD",227.7,591,11.8,{rot:-90});
txt("Enrichment score",349,691,10.7);
txt("MuSCs *mdx* HFD/*mdx* LFD",347,704,10.8);
/* ---------- draw I ---------- */
letter("I",518,488);
const iy=d3.scaleLinear().domain([-3,5]).range([675,532.7]);
const offs=[-13.5,0,13.5];
const icx=d3.scaleOrdinal().domain(iGroups).range([576,625]);
iGroups.forEach((g,gi)=>iSeries.forEach((s,si)=>{
  const c=icx(g)+offs[si];
  svg.append("rect").attr("x",c-4.8).attr("y",iy(iHigh[gi][si])).attr("width",9.6).attr("height",iy(iLow[gi][si])-iy(iHigh[gi][si])).attr("fill",iFill[si]).attr("stroke",iStroke[si]).attr("stroke-width",1);
  svg.append("line").attr("x1",c-4.8).attr("x2",c+4.8).attr("y1",iy(iMedian[gi][si])).attr("y2",iy(iMedian[gi][si])).attr("stroke",iMed[si]).attr("stroke-width",1);
}));
svg.append("line").attr("x1",551.7).attr("x2",650).attr("y1",iy(0)).attr("y2",iy(0)).attr("stroke","#555").attr("stroke-dasharray","3,2").attr("stroke-width",1);
axis(d3.axisLeft(iy).tickValues(iTicks).tickSize(3).tickPadding(1.5),551.7,0,10);
axis(d3.axisBottom(icx).tickSize(3).tickPadding(5).tickSizeOuter(0),0,675,10.3).call(g=>g.select(".domain").attr("d","M551.7,0H650"));
iSeries.forEach((s,i)=>{
  const y=490+i*20.4;
  svg.append("rect").attr("x",556).attr("y",y).attr("width",18.6).attr("height",10).attr("fill",iFill[i]).attr("stroke",iStroke[i]).attr("stroke-width",1);
  txt(s,577.5,y+5,11.2,{anchor:"start"});
});
txt("Log2 Fold Change *mdx* cells HFD vs LFD",534,603,10.9,{rot:-90});
/* ---------- draw J ---------- */
letter("J",14,723);
const jCol=d3.scaleLinear().domain([-2,-1,0,1,2]).range(["#2b7cba","#8db6da","#ffffff","#f79a9c","#ee3a3a"]);
function jHeat(genes,m,f,x0,x1,y0,y1,color,fs){
  const x=d3.scaleBand().domain(genes).range([x0,x1]);
  const rh=(y1-y0)/2;
  [m,f].forEach((vals,ri)=>svg.append("g").selectAll("rect").data(vals).join("rect")
    .attr("x",(d,i)=>x(genes[i])).attr("y",y0+ri*rh).attr("width",x.bandwidth()).attr("height",rh)
    .attr("fill",d=>jCol(d)).attr("stroke","#fff").attr("stroke-width",.5));
  svg.append("rect").attr("x",x0).attr("y",y0).attr("width",x1-x0).attr("height",y1-y0).attr("fill","none").attr("stroke","#777").attr("stroke-width",1.1);
  txt("MuSCs",37.7,y0+6,10.5,{anchor:"end"}); txt("FAPs",37.7,y0+18.5,10.2,{anchor:"end"});
  genes.forEach(g=>{ const px=x(g)+x.bandwidth()/2, py=y1+1.7;
    svg.append("text").attr("transform",`translate(${px},${py}) rotate(-90)`).attr("text-anchor","end").attr("dy",".35em").attr("font-size",fs).style("fill",color).text(g); });
}
jHeat(jFaGenes,jFaM,jFaF,42.7,262.3,740.7,765,"#c5304f",9.3);
jHeat(jOx1Genes,jOx1M,jOx1F,42.7,376.7,807.7,832.3,"#6a3d9a",10);
jHeat(jOx2Genes,jOx2M,jOx2F,42.7,376.7,874,898.3,"#6a3d9a",9.3);
jHeat(jTcaGenes,jTcaM,jTcaF,42.7,272.3,947.3,972.3,"#4a4fa0",7.9);
txt("Fatty Acid oxidation",146.7,733.3,11.7,{color:"#c5304f"});
txt("Oxidative Phosphorylation",308,801.7,12,{color:"#6a3d9a"});
txt("TCA cycle",96,940,11.6,{color:"#3f4f9f"});
gradient("gj",[[0,"#2276b5"],[.5,"#ffffff"],[1,"#ee3a3a"]]);
svg.append("rect").attr("x",290).attr("y",957.3).attr("width",80).attr("height",7.7).attr("fill","url(#gj)");
[["-2",295],["0",330],["2",366.7]].forEach(t=>txt(t[0],t[1],950,10));
txt("Log2 Fold Change",330,974,10.6);
txt("mdx cells HFD vs LFD",330,986.7,10.6);
/* ---------- draw K ---------- */
letter("K",521,772);
const ky=d3.scaleLinear().domain([22,30]).range([902.7,796]);
const kc=[562.5,586,610.3,631.8];
kVals.forEach((v,i)=>{
  svg.append("line").attr("x1",kc[i]).attr("x2",kc[i]).attr("y1",ky(kErr[i])).attr("y2",ky(v)).attr("stroke","#111").attr("stroke-width",1.3);
  svg.append("line").attr("x1",kc[i]-4).attr("x2",kc[i]+4).attr("y1",ky(kErr[i])).attr("y2",ky(kErr[i])).attr("stroke","#111").attr("stroke-width",1.3);
  svg.append("rect").attr("x",kc[i]-7.7).attr("y",ky(v)).attr("width",15.4).attr("height",ky(22)-ky(v)).attr("fill",kColors[i]).attr("stroke","#111").attr("stroke-width",1.2);
});
axis(d3.axisLeft(ky).tickValues(kTicks).tickSize(3).tickPadding(.5).tickSizeOuter(0),550,0,9.2);
svg.append("line").attr("x1",550).attr("x2",642.5).attr("y1",902.7).attr("y2",902.7).attr("stroke","#111").attr("stroke-width",1.1);
kCats.forEach((c,i)=>txt(c.trim(),[562,586,610,632][i],909.5,10.3));
svg.append("line").attr("x1",554.7).attr("x2",593.5).attr("y1",917.7).attr("y2",917.7).attr("stroke","#333").attr("stroke-width",.8);
svg.append("line").attr("x1",602.5).attr("x2",640).attr("y1",917.7).attr("y2",917.7).attr("stroke","#333").attr("stroke-width",.8);
txt("FAPs",574,925.7,11.6); txt("MuSCs",621,925.7,11.8);
txt("PDK4 abudance",597,779,11.8);
svg.append("text").attr("x",574.5).attr("y",818.5).attr("text-anchor","middle").attr("font-size",13).style("fill","#333").text("***");
svg.append("line").attr("x1",562.7).attr("x2",586).attr("y1",819.7).attr("y2",819.7).attr("stroke","#333").attr("stroke-width",.8);
txt("LFQ intensity *mdx* cells",530,848,10.7,{rot:-90});
</script></body></html>
